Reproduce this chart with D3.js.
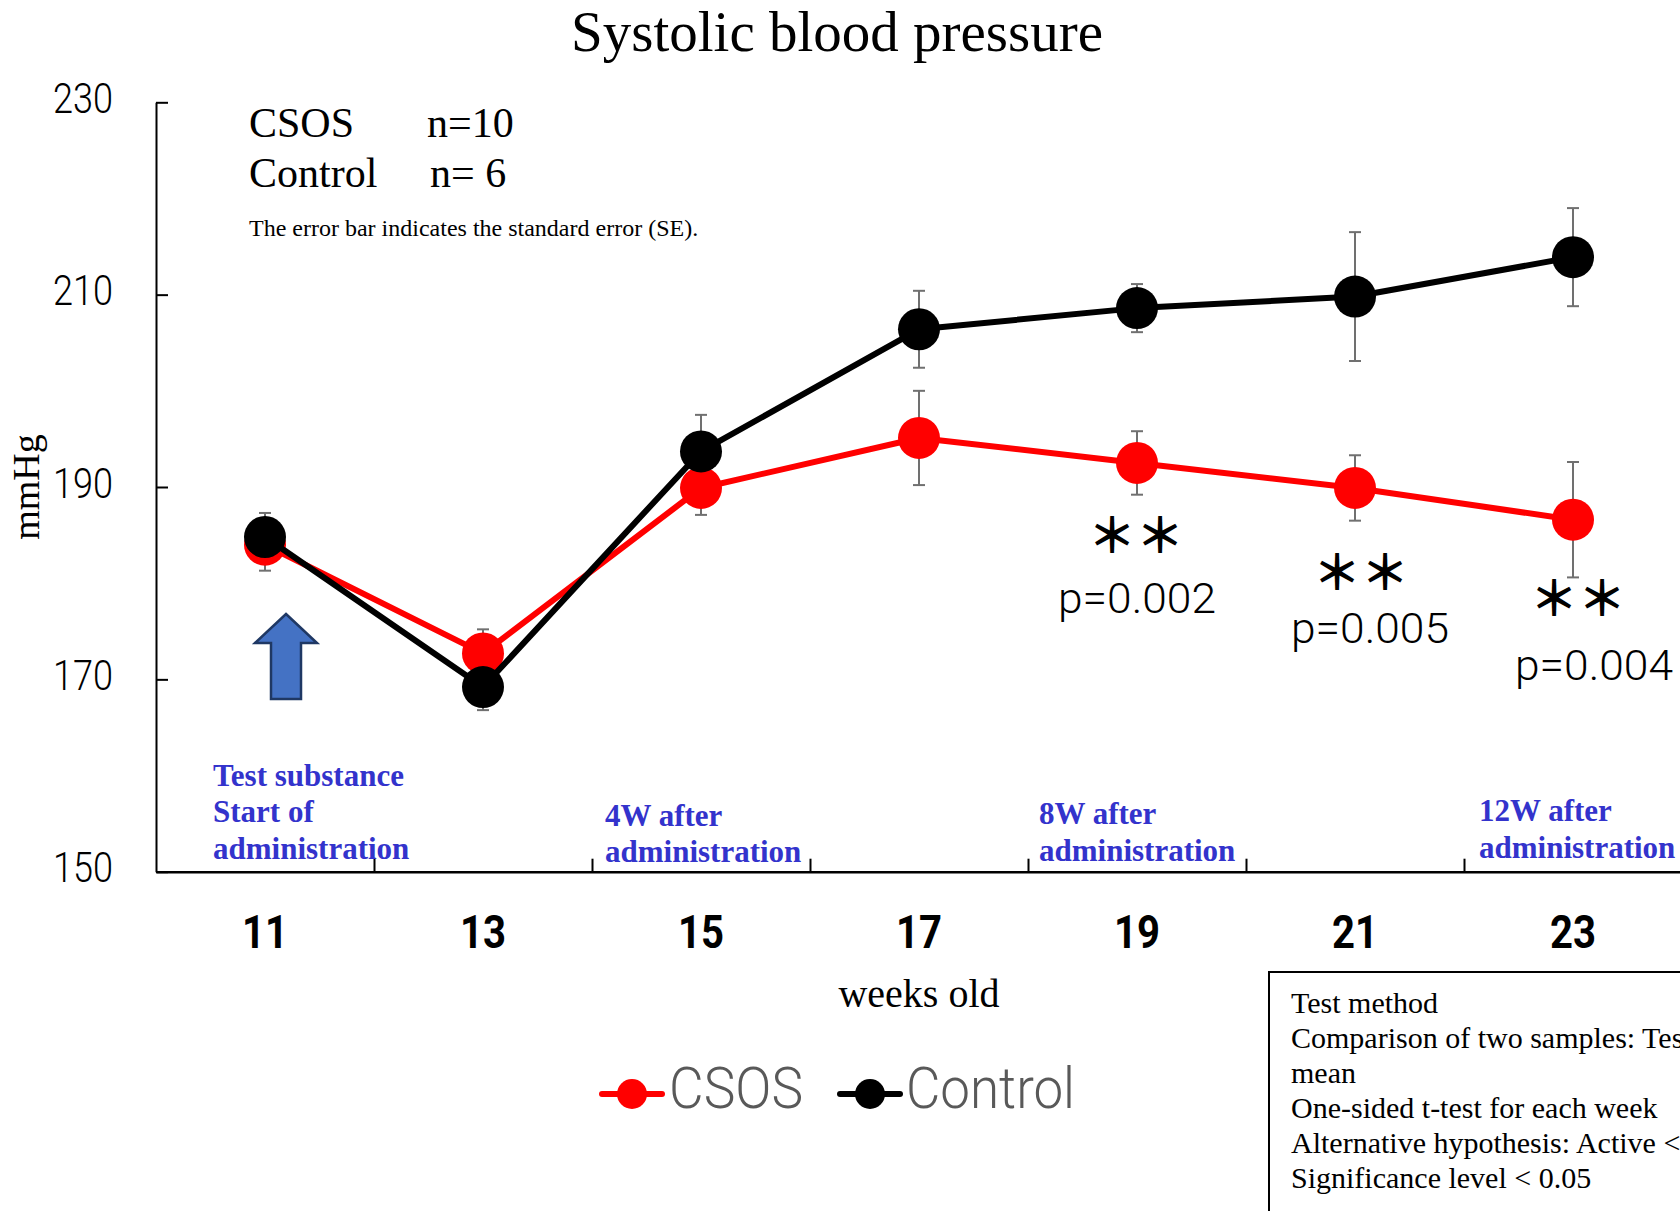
<!DOCTYPE html>
<html>
<head>
<meta charset="utf-8">
<title>Systolic blood pressure</title>
<script src="https://cdn.jsdelivr.net/npm/d3@7"></script>
<style>
  body { margin: 0; background: #fff; overflow: hidden; }
  .serif { font-family: "Liberation Serif", "Times New Roman", serif; }
  .thin { font-family: Roboto, "Noto Sans", sans-serif; font-weight: 300; }
  .axis text { fill: #000; }
</style>
</head>
<body>
<svg id="chart" width="1680" height="1211"></svg>
<script>
// weeks old on the x axis
const weeks = ["11", "13", "15", "17", "19", "21", "23"];

// mean systolic pressure (mmHg) and standard error, per group
const csosMean = [184.0, 172.7, 189.9, 195.1, 192.5, 189.9, 186.6];
const csosSE = [2.7, 2.5, 2.8, 4.9, 3.3, 3.4, 6.0];
const controlMean = [184.8, 169.2, 193.7, 206.4, 208.6, 209.8, 213.9];
const controlSE = [2.5, 2.4, 3.8, 4.0, 2.5, 6.7, 5.1];

const yTicks = [150, 170, 190, 210, 230];

// significance marks
const sigWeeks = ["19", "21", "23"];
const sigMarks = ["＊＊", "＊＊", "＊＊"];
const pLabels = ["p=0.002", "p=0.005", "p=0.004"];

// blue phase notes under the curves
const phaseLines = [
  ["Test substance", "Start of", "administration"],
  ["4W after", "administration"],
  ["8W after", "administration"],
  ["12W after", "administration"]
];

const methodLines = [
  "Test method",
  "Comparison of two samples: Test of the difference of the population",
  "mean",
  "One-sided t-test for each week",
  "Alternative hypothesis: Active < Control",
  "Significance level < 0.05"
];

const svg = d3.select("#chart");
const plotLeft = 156, plotBottom = 871.7, plotTop = 102.3, band = 218;

const x = d3.scaleBand().domain(weeks).range([plotLeft, plotLeft + band * weeks.length]).padding(0);
const xb = d3.scaleLinear().domain([0, weeks.length]).range([plotLeft, plotLeft + band * weeks.length]);
const y = d3.scaleLinear().domain([150, 230]).range([plotBottom, plotTop]);
const cx = w => x(w) + x.bandwidth() / 2;

// title
svg.append("text").attr("class", "serif")
  .attr("x", 837).attr("y", 51).attr("text-anchor", "middle")
  .style("font-size", "57px").text("Systolic blood pressure");

// y axis
const yAxis = svg.append("g").attr("class", "axis thin")
  .attr("transform", "translate(" + plotLeft + ",0)")
  .call(d3.axisLeft(y).tickValues(yTicks).tickSize(-12).tickSizeOuter(0).tickPadding(43));
yAxis.select(".domain").attr("stroke", "#000").attr("stroke-width", 2);
yAxis.selectAll(".tick line").attr("stroke", "#000").attr("stroke-width", 2);
yAxis.selectAll("text").style("font-size", "42px").attr("dy", "0.24em")
  .attr("textLength", 60).attr("lengthAdjust", "spacingAndGlyphs");

svg.append("text").attr("class", "serif")
  .attr("transform", "translate(39,487) rotate(-90)")
  .attr("text-anchor", "middle").style("font-size", "38px").text("mmHg");

// x axis: boundary ticks + centred labels
const xTicks = svg.append("g").attr("class", "axis")
  .attr("transform", "translate(0," + plotBottom + ")")
  .call(d3.axisBottom(xb).tickValues(d3.range(1, weeks.length)).tickSize(-13).tickSizeOuter(0).tickFormat(""));
xTicks.select(".domain").attr("stroke", "#000").attr("stroke-width", 2.5);
xTicks.selectAll(".tick line").attr("stroke", "#000").attr("stroke-width", 2);

const xLabels = svg.append("g").attr("class", "axis")
  .attr("transform", "translate(0," + plotBottom + ")")
  .call(d3.axisBottom(x).tickSize(0).tickPadding(43.5));
xLabels.select(".domain").remove();
xLabels.selectAll("text").style("font-family", "Roboto, sans-serif")
  .style("font-size", "46px").style("font-weight", "bold")
  .attr("textLength", 46).attr("lengthAdjust", "spacingAndGlyphs");

svg.append("text").attr("class", "serif")
  .attr("x", xb(3.5)).attr("y", 1007).attr("text-anchor", "middle")
  .style("font-size", "40px").text("weeks old");

// n counts and note
const nBlock = svg.append("g").attr("class", "serif").style("font-size", "42px");
nBlock.append("text").attr("x", 249).attr("y", 137).text("CSOS");
nBlock.append("text").attr("x", 427).attr("y", 137).text("n=10");
nBlock.append("text").attr("x", 249).attr("y", 187).text("Control");
nBlock.append("text").attr("x", 430).attr("y", 187).text("n= 6");
svg.append("text").attr("class", "serif").attr("x", 249).attr("y", 236)
  .style("font-size", "24px").text("The error bar indicates the standard error (SE).");

// phase notes
const phaseX = [213, 605, 1039, 1479];
const phaseBase = [[785.7, 821.7, 859], [826, 862], [824, 860.5], [821, 858]];
phaseLines.forEach((lines, i) => {
  const t = svg.append("text").attr("class", "serif")
    .style("font-size", "31px").style("font-weight", "bold").attr("fill", "#3333CC");
  lines.forEach((s, j) => t.append("tspan").attr("x", phaseX[i]).attr("y", phaseBase[i][j]).text(s));
});

// start arrow
const ax = cx("11") + 21;
svg.append("path")
  .attr("d", "M" + ax + ",614 L" + (ax + 31) + ",643 L" + (ax + 15) + ",643 L" + (ax + 15) + ",699 L" + (ax - 15) + ",699 L" + (ax - 15) + ",643 L" + (ax - 31) + ",643 Z")
  .attr("fill", "#4472C4").attr("stroke", "#1F3864").attr("stroke-width", 2.5);

// series
const series = [
  { name: "CSOS", mean: csosMean, se: csosSE, color: "#FF0000" },
  { name: "Control", mean: controlMean, se: controlSE, color: "#000000" }
];

const errG = svg.append("g").attr("stroke", "#707070").attr("stroke-width", 2);
series.forEach(s => {
  weeks.forEach((w, i) => {
    const x0 = cx(w), y1 = y(s.mean[i] + s.se[i]), y2 = y(s.mean[i] - s.se[i]);
    errG.append("line").attr("x1", x0).attr("x2", x0).attr("y1", y1).attr("y2", y2);
    errG.append("line").attr("x1", x0 - 6).attr("x2", x0 + 6).attr("y1", y1).attr("y2", y1);
    errG.append("line").attr("x1", x0 - 6).attr("x2", x0 + 6).attr("y1", y2).attr("y2", y2);
  });
});

const line = d3.line().x(d => cx(d.w)).y(d => y(d.v));
series.forEach(s => {
  const pts = weeks.map((w, i) => ({ w: w, v: s.mean[i] }));
  svg.append("path").datum(pts).attr("d", line)
    .attr("fill", "none").attr("stroke", s.color).attr("stroke-width", 6).attr("stroke-linejoin", "round");
  svg.selectAll(null).data(pts).enter().append("circle")
    .attr("cx", d => cx(d.w)).attr("cy", d => y(d.v)).attr("r", 21).attr("fill", s.color);
});

// significance
const starOff = [[-1, 69], [6, 81], [5, 75]];
const pOff = [[0, 150], [15, 155], [21, 160]];
sigWeeks.forEach((w, i) => {
  const i0 = weeks.indexOf(w);
  const py = y(csosMean[i0]);
  svg.append("text").attr("x", cx(w) + starOff[i][0]).attr("y", py + starOff[i][1])
    .attr("text-anchor", "middle").attr("dominant-baseline", "central")
    .style("font-family", "'Noto Sans CJK JP', sans-serif").style("font-weight", "bold")
    .style("font-size", "48px").text(sigMarks[i]);
  svg.append("text").attr("class", "thin").attr("x", cx(w) + pOff[i][0]).attr("y", py + pOff[i][1])
    .attr("text-anchor", "middle").style("font-size", "43px")
    .attr("textLength", 158).attr("lengthAdjust", "spacingAndGlyphs").text(pLabels[i]);
});

// legend
const legend = svg.append("g");
[[602, 669, 134], [840, 906, 169]].forEach((p, i) => {
  const s = series[i];
  legend.append("line").attr("x1", p[0]).attr("x2", p[0] + 60).attr("y1", 1094).attr("y2", 1094)
    .attr("stroke", s.color).attr("stroke-width", 6).attr("stroke-linecap", "round");
  legend.append("circle").attr("cx", p[0] + 30).attr("cy", 1094).attr("r", 15).attr("fill", s.color);
  legend.append("text").attr("class", "thin").attr("x", p[1]).attr("y", 1108)
    .style("font-size", "57px").attr("fill", "#595959")
    .attr("textLength", p[2]).attr("lengthAdjust", "spacingAndGlyphs").text(s.name);
});

// test method box
svg.append("rect").attr("x", 1269).attr("y", 972).attr("width", 500).attr("height", 300)
  .attr("fill", "#fff").attr("stroke", "#000").attr("stroke-width", 2);
const mt = svg.append("text").attr("class", "serif").style("font-size", "30px");
methodLines.forEach((s, i) => mt.append("tspan").attr("x", 1291).attr("y", 1013 + i * 35).text(s));
</script>
</body>
</html>
